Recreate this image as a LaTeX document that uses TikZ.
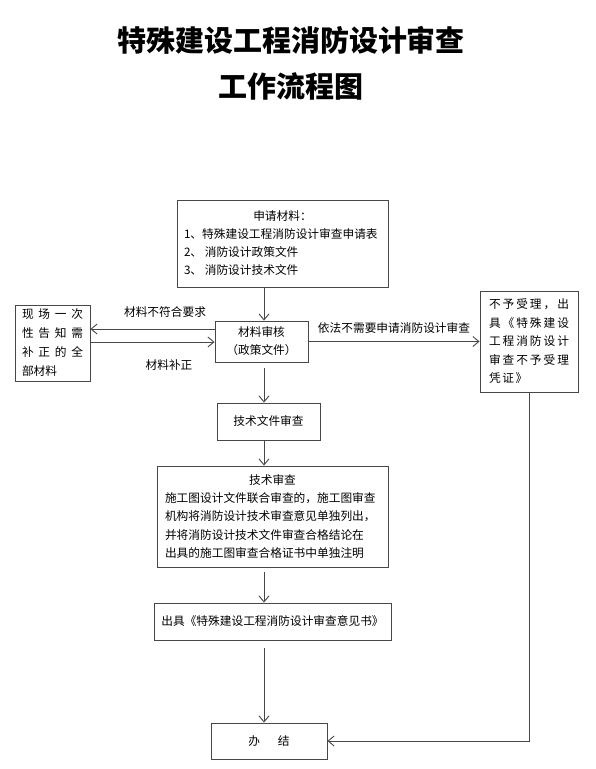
\documentclass[tikz,border=0pt]{standalone}
\usepackage{fontspec}
\setmainfont{Noto Sans CJK SC}
\usetikzlibrary{arrows.meta}
\begin{document}
\begin{tikzpicture}[x=1pt,y=-1pt,
  box/.style={draw=black!72, line width=0.9pt, inner sep=0pt},
  arr/.style={draw=black!72, line width=0.9pt, -{Straight Barb[length=6pt,width=10pt]}},
  lbl/.style={font=\fontsize{11.7}{14}\selectfont, inner sep=0pt},
  body/.style={font=\fontsize{11.7}{18}\selectfont, align=left, inner sep=0pt},
  ttl/.style={font=\fontsize{29}{34}\selectfont\bfseries, inner sep=0pt}]
\useasboundingbox (0,0) rectangle (596,769);
\fill[white] (0,0) rectangle (596,769);

% titles
\node[ttl] (t1) at (291,40) {特殊建设工程消防设计审查};
\node[ttl] (t2) at (291,86) {工作流程图};

% boxes
\node[box, body, minimum width=211pt, minimum height=87pt] (apply) at (282.5,243.5)
  {\makebox[197pt]{申请材料：}\\1、特殊建设工程消防设计审查申请表\\2、 消防设计政策文件\\3、 消防设计技术文件};
\node[box, body, align=center, minimum width=93pt, minimum height=41pt] (review) at (261.5,341.5)
  {材料审核\\（政策文件）};
\node[box, font=\fontsize{11.7}{19}\selectfont, align=left, minimum width=75pt, minimum height=76pt] (left) at (52.5,343)
  {\makebox[61pt][s]{现\hfill 场\hfill 一\hfill 次}\\\makebox[61pt][s]{性\hfill 告\hfill 知\hfill 需}\\\makebox[61pt][s]{补\hfill 正\hfill 的\hfill 全}\\\makebox[61pt][l]{部材料}};
\node[box, font=\fontsize{11.7}{18.5}\selectfont, align=left, minimum width=98pt, minimum height=101pt] (right) at (529,341.5)
  {\makebox[80pt][s]{不\hfill 予\hfill 受\hfill 理\hfill ，\hfill 出}\\\makebox[80pt][s]{具\hfill 《\hfill 特\hfill 殊\hfill 建\hfill 设}\\\makebox[80pt][s]{工\hfill 程\hfill 消\hfill 防\hfill 设\hfill 计}\\\makebox[80pt][s]{审\hfill 查\hfill 不\hfill 予\hfill 受\hfill 理}\\\makebox[80pt][l]{凭\hspace{1.6pt}证\hspace{1.6pt}》}};
\node[box, body, minimum width=103pt, minimum height=37pt] (techfile) at (268.5,421.5) {技术文件审查};
\node[box, font=\fontsize{11.7}{18.3}\selectfont, align=left, minimum width=231pt, minimum height=101pt] (tech) at (272.5,516.5)
  {\makebox[215pt]{技术审查}\\施工图设计文件联合审查的，施工图审查\\机构将消防设计技术审查意见单独列出，\\并将消防设计技术文件审查合格结论在\\出具的施工图审查合格证书中单独注明};
\node[box, body, minimum width=237pt, minimum height=37pt] (issue) at (272.5,621.5) {出具《特殊建设工程消防设计审查意见书》};
\node[box, body, minimum width=116pt, minimum height=36pt] (done) at (269,741) {办\hspace{18pt}结};

% labels
\node[lbl] (l1) at (165,312) {材料不符合要求};
\node[lbl] (l2) at (169,365) {材料补正};
\node[lbl] (l3) at (394,328) {依法不需要申请消防设计审查};

% connectors
\coordinate (sp) at (264,0);
\coordinate (ya) at (0,329);
\coordinate (yb) at (0,342);
\draw[arr] (apply.south -| sp) -- (review.north -| sp);
\draw[arr, shorten <=6pt] (review.south -| sp) -- (techfile.north -| sp);
\draw[arr] (techfile.south -| sp) -- (tech.north -| sp);
\draw[arr, shorten <=5pt] (tech.south -| sp) -- (issue.north -| sp);
\draw[arr, shorten <=8pt] (issue.south -| sp) -- (done.north -| sp);
\draw[arr] (review.west |- ya) -- (left.east |- ya);
\draw[arr] (left.east |- yb) -- (review.west |- yb);
\draw[arr] (review.east) -- (right.west |- review.east);
\draw[arr] (right.south) -- (right.south |- done.east) -- (done.east);
\end{tikzpicture}
\end{document}
